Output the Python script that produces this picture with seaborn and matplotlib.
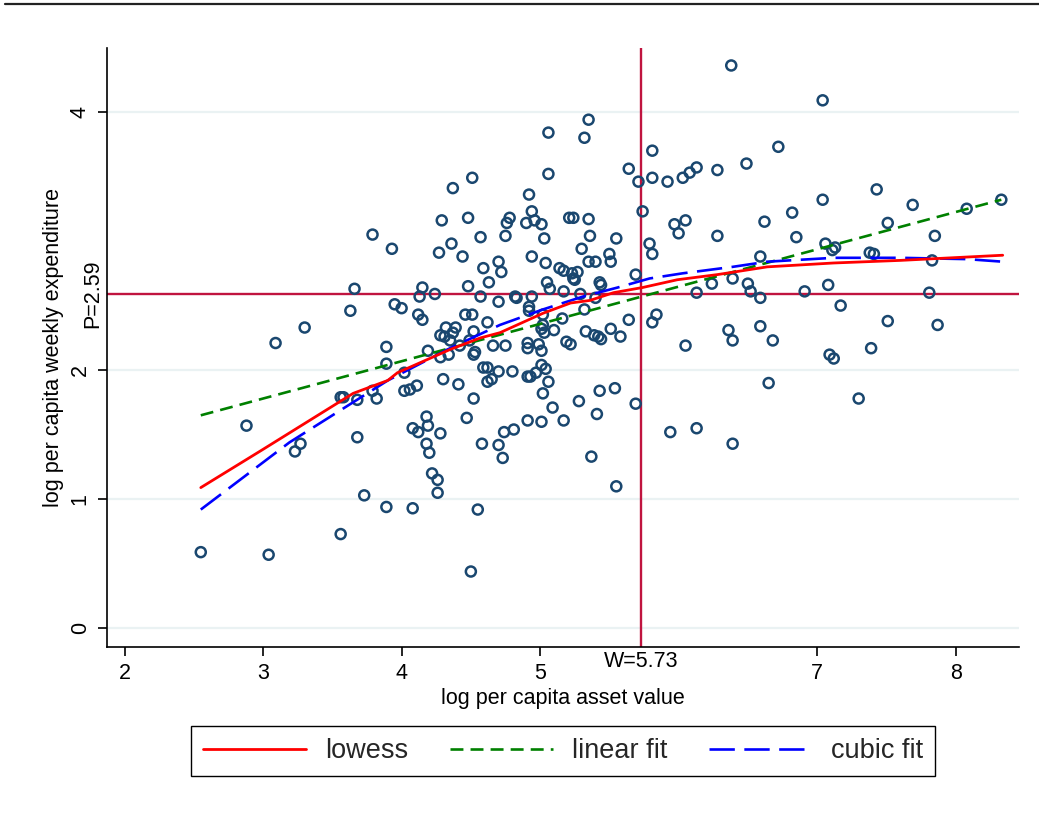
import matplotlib
matplotlib.use("Agg")
import matplotlib.pyplot as plt
from matplotlib.lines import Line2D
import seaborn as sns

# ---------------------------------------------------------------------------
# data
# ---------------------------------------------------------------------------

asset = [
    2.55, 2.88, 3.04, 3.09, 3.23, 3.27, 3.30, 3.56, 3.56, 3.58,
    3.63, 3.66, 3.68, 3.68, 3.73, 3.79, 3.79, 3.82, 3.89, 3.89,
    3.89, 3.93, 3.95, 4.00, 4.02, 4.02, 4.06, 4.08, 4.08, 4.11,
    4.12, 4.12, 4.13, 4.15, 4.15, 4.18, 4.19, 4.19, 4.18, 4.20,
    4.22, 4.26, 4.26, 4.24, 4.27, 4.28, 4.28, 4.28, 4.29, 4.30,
    4.31, 4.32, 4.34, 4.35, 4.36, 4.37, 4.37, 4.39, 4.41, 4.42,
    4.44, 4.46, 4.47, 4.48, 4.48, 4.49, 4.50, 4.51, 4.51, 4.52,
    4.52, 4.53, 4.52, 4.55, 4.57, 4.57, 4.59, 4.58, 4.59, 4.62,
    4.62, 4.62, 4.63, 4.65, 4.66, 4.70, 4.70, 4.70, 4.70, 4.72,
    4.73, 4.74, 4.75, 4.75, 4.76, 4.78, 4.80, 4.81, 4.82, 4.83,
    4.90, 4.91, 4.91, 4.91, 4.91, 4.92, 4.92, 4.92, 4.93, 4.94,
    4.94, 4.94, 4.96, 4.97, 4.99, 5.01, 5.01, 5.01, 5.01, 5.01,
    5.02, 5.02, 5.02, 5.03, 5.03, 5.04, 5.04, 5.05, 5.06, 5.06,
    5.06, 5.07, 5.09, 5.10, 5.14, 5.16, 5.17, 5.17, 5.17, 5.19,
    5.21, 5.22, 5.23, 5.24, 5.24, 5.25, 5.27, 5.28, 5.29, 5.30,
    5.32, 5.32, 5.33, 5.35, 5.35, 5.35, 5.36, 5.37, 5.39, 5.40,
    5.40, 5.41, 5.42, 5.43, 5.43, 5.44, 5.44, 5.50, 5.51, 5.51,
    5.54, 5.55, 5.55, 5.58, 5.64, 5.64, 5.69, 5.69, 5.71, 5.74,
    5.79, 5.81, 5.81, 5.81, 5.81, 5.84, 5.92, 5.94, 5.97, 6.00,
    6.03, 6.05, 6.05, 6.08, 6.13, 6.13, 6.13, 6.24, 6.28, 6.28,
    6.36, 6.38, 6.39, 6.39, 6.39, 6.49, 6.50, 6.52, 6.59, 6.59,
    6.59, 6.62, 6.65, 6.68, 6.72, 6.82, 6.85, 6.91, 7.04, 7.04,
    7.06, 7.08, 7.09, 7.11, 7.13, 7.12, 7.17, 7.30, 7.38, 7.39,
    7.41, 7.43, 7.51, 7.51, 7.69, 7.81, 7.83, 7.85, 7.87, 8.08,
    8.33,
]

expend = [
    0.59, 1.57, 0.57, 2.21, 1.37, 1.43, 2.33, 0.73, 1.79, 1.79,
    2.46, 2.63, 1.77, 1.48, 1.03, 3.05, 1.84, 1.78, 2.18, 2.05,
    0.94, 2.94, 2.51, 2.48, 1.98, 1.84, 1.85, 1.55, 0.93, 1.88,
    2.43, 1.52, 2.57, 2.64, 2.39, 1.64, 2.15, 1.57, 1.43, 1.36,
    1.20, 1.15, 1.05, 2.59, 2.91, 2.10, 1.51, 2.27, 3.16, 1.93,
    2.26, 2.33, 2.12, 2.23, 2.98, 3.41, 2.29, 2.33, 1.89, 2.19,
    2.88, 2.43, 1.63, 3.18, 2.65, 2.23, 0.44, 3.49, 2.43, 1.78,
    2.30, 2.14, 2.12, 0.92, 3.03, 2.57, 2.79, 1.43, 2.02, 2.37,
    1.91, 2.02, 2.68, 1.93, 2.19, 2.84, 2.53, 1.99, 1.42, 2.76,
    1.32, 1.52, 2.19, 3.04, 3.14, 3.18, 1.99, 1.54, 2.57, 2.56,
    3.14, 2.21, 2.17, 1.95, 1.61, 3.36, 2.49, 2.46, 1.95, 3.23,
    2.88, 2.57, 3.16, 1.98, 2.20, 2.15, 3.13, 2.32, 2.04, 1.60,
    2.43, 2.35, 1.82, 3.02, 2.29, 2.83, 2.01, 2.68, 3.84, 1.91,
    3.52, 2.63, 1.71, 2.31, 2.79, 2.40, 2.61, 1.61, 2.77, 2.22,
    3.18, 2.20, 2.75, 3.18, 2.71, 2.70, 2.76, 1.76, 2.59, 2.94,
    3.80, 2.47, 2.30, 3.94, 3.17, 2.84, 3.04, 1.33, 2.27, 2.56,
    2.84, 1.66, 2.26, 2.68, 1.84, 2.66, 2.24, 2.90, 2.84, 2.32,
    1.86, 3.02, 1.10, 2.26, 2.39, 3.56, 2.74, 1.74, 3.46, 3.23,
    2.98, 3.70, 3.49, 2.90, 2.37, 2.43, 3.46, 1.52, 3.13, 3.06,
    3.49, 3.16, 2.19, 3.53, 3.57, 2.60, 1.55, 2.67, 3.55, 3.04,
    2.31, 4.36, 2.71, 2.23, 1.43, 3.60, 2.67, 2.61, 2.88, 2.56,
    2.34, 3.15, 1.90, 2.23, 3.73, 3.22, 3.03, 2.61, 4.09, 3.32,
    2.98, 2.66, 2.12, 2.93, 2.95, 2.09, 2.50, 1.78, 2.91, 2.17,
    2.90, 3.40, 3.14, 2.38, 3.28, 2.60, 2.85, 3.04, 2.35, 3.25,
    3.32,
]

lowess_x = [2.55, 2.99, 3.65, 3.90, 3.97, 4.35, 4.57, 4.71, 5.02, 5.22,
            5.36, 5.53, 5.74, 5.99, 6.28, 6.64, 7.12, 7.60, 8.34]
lowess_y = [1.09, 1.38, 1.82, 1.92, 1.98, 2.16, 2.25, 2.29, 2.44, 2.52,
            2.54, 2.60, 2.64, 2.70, 2.74, 2.80, 2.83, 2.85, 2.89]

linear_x = [2.55, 8.33]
linear_y = [1.65, 3.32]

cubic_x = [2.55, 3.19, 3.90, 4.35, 4.71, 5.02, 5.31, 5.56, 5.79, 6.03,
           6.39, 6.64, 7.12, 7.60, 8.08, 8.34]
cubic_y = [0.92, 1.44, 1.92, 2.17, 2.35, 2.47, 2.57, 2.64, 2.71, 2.75,
           2.80, 2.84, 2.87, 2.87, 2.86, 2.84]

w_line = 5.73
p_line = 2.59

x_ticks = [2, 3, 4, 5, 7, 8]
y_ticks = [0, 1, 2, 4]

# ---------------------------------------------------------------------------
# plot
# ---------------------------------------------------------------------------

sns.set_theme(style="white")
plt.rcParams["font.family"] = ["Liberation Sans", "DejaVu Sans"]

fig = plt.figure(figsize=(10.39, 8.27), dpi=100)
ax = fig.add_axes([0.1030, 0.2180, 0.8778, 0.7236])

ref_color = "#c0143f"
ax.axhline(p_line, color=ref_color, lw=1.7, zorder=1)
ax.axvline(w_line, color=ref_color, lw=1.7, zorder=1)

sns.scatterplot(x=asset, y=expend, ax=ax, marker="o", s=52,
                facecolor="none", edgecolor="#1a476f", linewidth=1.8,
                zorder=2)

sns.lineplot(x=lowess_x, y=lowess_y, ax=ax, sort=False, estimator=None,
             color="#ff0000", lw=2.0, label="lowess", zorder=4)
sns.lineplot(x=linear_x, y=linear_y, ax=ax, sort=False, estimator=None,
             color="#008000", lw=1.9, linestyle=(0, (4.9, 2.7)),
             label="linear fit", zorder=3)
sns.lineplot(x=cubic_x, y=cubic_y, ax=ax, sort=False, estimator=None,
             color="#0000ff", lw=1.9, linestyle=(0, (9.6, 3.6)),
             label="cubic fit", zorder=3)

handles, labels = ax.get_legend_handles_labels()
if ax.get_legend() is not None:
    ax.get_legend().remove()

ax.set_xlim(1.873, 8.458)
ax.set_ylim(-0.1425, 4.493)
ax.set_xticks(x_ticks)
ax.set_yticks(y_ticks)
ax.yaxis.grid(True, color="#eaf2f3", lw=1.6)
ax.xaxis.grid(False)
ax.set_axisbelow(True)

for side in ["top", "right"]:
    ax.spines[side].set_visible(False)
for side in ["left", "bottom"]:
    ax.spines[side].set_color("black")
    ax.spines[side].set_linewidth(1.2)

ax.tick_params(axis="both", direction="out", length=6.8, width=1.2,
               color="black", labelcolor="black", labelsize=15.5, pad=5,
               bottom=True, left=True)
ax.tick_params(axis="y", labelrotation=90)
for lab in ax.get_yticklabels():
    lab.set_va("center")

# extra value labels without tick marks
ax.annotate("W=5.73", xy=(w_line, 0), xycoords=("data", "axes fraction"),
            xytext=(0, -3), textcoords="offset points",
            ha="center", va="top", fontsize=15.5, color="black")
ax.annotate("P=2.59", xy=(0, p_line), xycoords=("axes fraction", "data"),
            xytext=(-3, 0), textcoords="offset points",
            ha="right", va="center", rotation=90, fontsize=15.5,
            color="black")

ax.set_xlabel("log per capita asset value", fontsize=15.5, labelpad=3,
              color="black")
ax.set_ylabel("log per capita weekly expenditure", fontsize=15.5,
              labelpad=4, color="black")

leg = fig.legend(handles, labels, loc="center", ncol=3,
                 bbox_to_anchor=(0.5420, 0.0919), fontsize=19.5,
                 handlelength=3.8, handletextpad=0.7, columnspacing=1.55,
                 borderpad=0.45, frameon=True, fancybox=False,
                 framealpha=1, edgecolor="black")
leg.get_frame().set_linewidth(1.0)

# thin rule along the top edge of the image
fig.add_artist(Line2D([0.005, 1.0], [0.9948, 0.9948], color="#222222",
                      lw=1.6, transform=fig.transFigure))

fig.savefig("out.png", dpi=100)
